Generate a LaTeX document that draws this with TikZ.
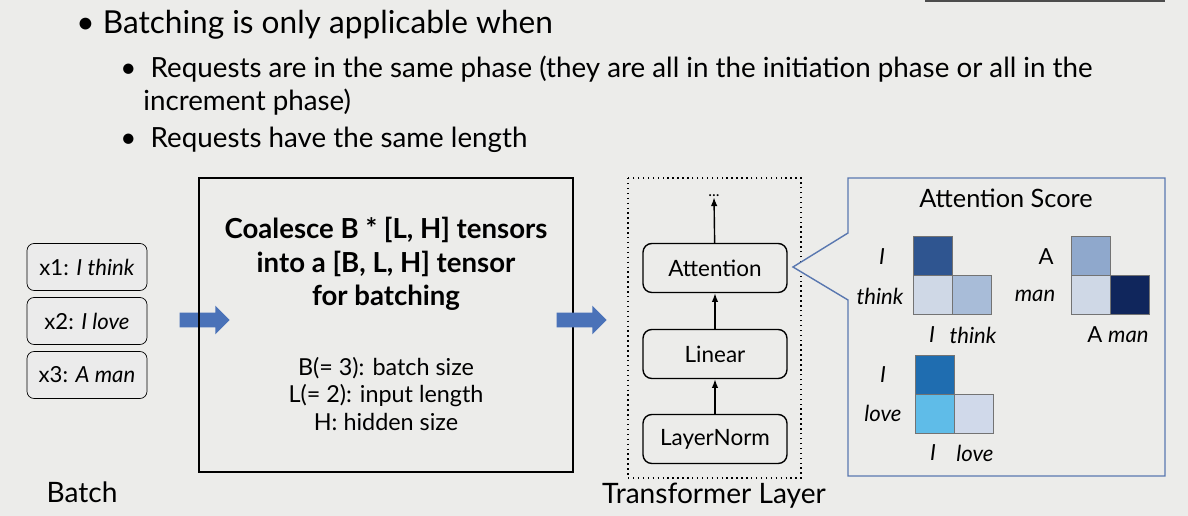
\documentclass[tikz,border=0pt]{standalone}
\usepackage{fontspec}
\setmainfont{Lato}
\usetikzlibrary{positioning, arrows.meta, calc, shapes.arrows}

\definecolor{bgcol}{HTML}{ECECEA}
\definecolor{framecol}{HTML}{5A78B0}
\definecolor{fatarrow}{HTML}{4A72B8}
\definecolor{thinkA}{HTML}{2F5590}
\definecolor{thinkB}{HTML}{CFD8E6}
\definecolor{thinkC}{HTML}{A8BCD8}
\definecolor{manA}{HTML}{8FA8CC}
\definecolor{manC}{HTML}{10265C}
\definecolor{loveA}{HTML}{1F6DB0}
\definecolor{loveB}{HTML}{5FBCE8}
\definecolor{loveC}{HTML}{D0D9EA}

\begin{document}
\begin{tikzpicture}[
  x=0.02cm, y=-0.02cm,
  every node/.style={inner sep=0pt},
  inbox/.style={draw, rounded corners=4pt, fill=black!8, minimum width=2.4cm, minimum height=0.94cm, font=\fontsize{12.6pt}{15pt}\selectfont},
  layerbox/.style={draw, thick, rounded corners=5pt, minimum width=2.88cm, minimum height=0.98cm, font=\fontsize{12.8pt}{15pt}\selectfont},
  bigarrow/.style={single arrow, fill=fatarrow, inner sep=0.14cm, single arrow head extend=0.14cm, minimum height=1cm},
  upedge/.style={thick, -{Latex[length=5pt]}},
  cell/.style={draw=black!55, minimum size=0.78cm},
  word/.style={font=\fontsize{12.6pt}{15pt}\selectfont\itshape},
  txt/.style={font=\fontsize{15.8pt}{19pt}\selectfont, anchor=west}
]
\fill[bgcol] (0,0) rectangle (1188,516);
\draw[black!70, thick] (925,1) -- (1165,1);

% bullets
\node[txt, font=\fontsize{18pt}{21pt}\selectfont] (b0) at (76,25) {\textbullet\ Batching is only applicable when};
\node[txt] (b1) at (120,69) {\textbullet\ \ Requests are in the same phase (they are all in the initiation phase or all in the};
\node[txt] (b2) at (143,102) {increment phase)};
\node[txt] (b3) at (120,140) {\textbullet\ \ Requests have the same length};

% batch inputs
\node[inbox] (x1) at (87,267) {x1: \textit{I think}};
\node[inbox] (x2) at (87,321) {x2: \textit{I love}};
\node[inbox] (x3) at (87,375) {x3: \textit{A man}};
\node[font=\fontsize{16pt}{19pt}\selectfont] (batch) at (82,492) {Batch};

\node[bigarrow] (a1) at (201,320) {};

% coalesce box
\draw[thick] (199,178) rectangle (573,472);
\node[align=center, font=\fontsize{15.7pt}{19pt}\selectfont\bfseries] (coal) at (386,264) {Coalesce B * [L, H] tensors\\into a [B, L, H] tensor\\for batching};
\node[align=center, font=\fontsize{13.3pt}{15.5pt}\selectfont] (defs) at (386,394) {B(= 3): batch size\\L(= 2): input length\\H: hidden size};

\node[bigarrow] (a2) at (578,320) {};

% transformer layer
\draw[thick, dotted] (628,178) rectangle (801,478);
\node (dots) at (714,196) {\small ...};
\node[layerbox] (attn) at (715,268) {Attention};
\node[layerbox] (lin) at (715,354) {Linear};
\node[layerbox] (ln) at (715,439) {LayerNorm};
\draw[upedge] (ln) -- (lin);
\draw[upedge] (lin) -- (attn);
\draw[upedge] (attn) -- (dots);
\node[font=\fontsize{16pt}{19pt}\selectfont] (tl) at (714,496) {Transformer Layer};

% attention score callout
\coordinate (tip) at (793,267);
\draw[framecol, thick, fill=bgcol] (848,178) -- (1165,178) -- (1165,476) -- (848,476) -- (848,300) -- (tip) -- (848,233) -- cycle;
\node[font=\fontsize{14.4pt}{17pt}\selectfont] (title) at (1006,198) {Attention Score};

% I think
\node[cell, fill=thinkA] (t11) at (933,256) {};
\node[cell, fill=thinkB] (t21) at (933,295) {};
\node[cell, fill=thinkC] (t22) at (972,295) {};
\node[word] (r1) at (882,257) {I};
\node[word] (r2) at (880,296) {think};
\node[word] (c1) at (932,335) {I};
\node[word] (c2) at (973,335) {think};

% A man
\node[cell, fill=manA] (m11) at (1091,256) {};
\node[cell, fill=thinkB] (m21) at (1091,295) {};
\node[cell, fill=manC] (m22) at (1130,295) {};
\node[font=\fontsize{12.6pt}{15pt}\selectfont] (r3) at (1046,257) {A};
\node[word] (r4) at (1035,296) {man};
\node (c3) at (1118,335) {\fontsize{12.6pt}{15pt}\selectfont A \textit{man}};

% I love
\node[cell, fill=loveA] (l11) at (935,375) {};
\node[cell, fill=loveB] (l21) at (935,414) {};
\node[cell, fill=loveC] (l22) at (974,414) {};
\node[word] (r5) at (883,375) {I};
\node[word] (r6) at (883,413) {love};
\node[word] (c5) at (933,453) {I};
\node[word] (c6) at (975,453) {love};
\end{tikzpicture}
\end{document}
